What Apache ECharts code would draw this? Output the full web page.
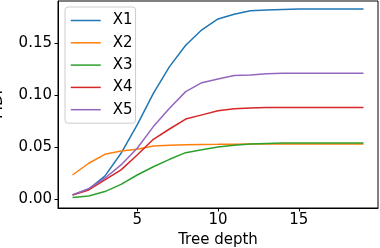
<!DOCTYPE html>
<html><head><meta charset="utf-8">
<script src="https://cdn.jsdelivr.net/npm/echarts@6/dist/echarts.min.js"></script>
<style>html,body{margin:0;padding:0;background:#fff}#c{width:380px;height:248px}</style>
</head><body><div id="c"></div>
<script>
const depths = [1,2,3,4,5,6,7,8,9,10,11,12,13,14,15,16,17,18,19];
const X1 = [0.0039,0.0096,0.022,0.044,0.0713,0.1018,0.1275,0.148,0.163,0.1734,0.178,0.1814,0.182,0.1825,0.183,0.183,0.183,0.183,0.183];
const X2 = [0.0231,0.0344,0.043,0.0462,0.0479,0.051,0.0517,0.0523,0.0525,0.0526,0.0528,0.0529,0.0529,0.0529,0.0529,0.0529,0.0529,0.0529,0.0529];
const X3 = [0.0013,0.0029,0.0071,0.0141,0.0231,0.031,0.0382,0.0446,0.0475,0.050,0.0517,0.053,0.0535,0.0538,0.0539,0.0539,0.0539,0.0539,0.0539];
const X4 = [0.0039,0.0087,0.0183,0.028,0.0424,0.0575,0.0674,0.077,0.081,0.085,0.087,0.0877,0.088,0.088,0.088,0.088,0.088,0.088,0.088];
const X5 = [0.0039,0.0099,0.020,0.0328,0.0488,0.0697,0.0874,0.1034,0.112,0.1156,0.119,0.1195,0.1206,0.121,0.121,0.121,0.121,0.121,0.121];
const names = ['X1','X2','X3','X4','X5'];
const seriesData = [X1,X2,X3,X4,X5];
const colors = ['#1f77b4','#ff7f0e','#2ca02c','#d62728','#9467bd'];
const xTicks = [5,10,15];
const yTicks = [0,0.05,0.10,0.15];
const font = 'DejaVu Sans';

const chart = echarts.init(document.getElementById('c'), null, {renderer:'canvas'});
chart.setOption({
  animation:false,
  color: colors,
  textStyle:{fontFamily:font},
  grid:{left:58,right:2,top:1,bottom:40,containLabel:false,outerBoundsMode:'none',show:true,borderColor:'#000',borderWidth:1,backgroundColor:'transparent'},
  legend:{
    orient:'vertical', left:65, top:7,
    padding:[6,3,6,5], itemGap:7.3, itemWidth:30, itemHeight:14,
    backgroundColor:'rgba(255,255,255,0.8)', borderColor:'#cccccc', borderWidth:1, borderRadius:3,
    itemStyle:{opacity:0},
    lineStyle:{width:1.5},
    textStyle:{fontFamily:font,fontSize:15,color:'#000',padding:[0,0,0,7]},
    data:names
  },
  xAxis:{
    type:'value', min:0.1, max:19.9,
    name:'Tree depth', nameLocation:'middle', nameGap:24,
    nameTextStyle:{fontFamily:font,fontSize:15,color:'#000'},
    axisLine:{show:true,onZero:false,lineStyle:{color:'#000',width:1}},
    axisTick:{show:true,length:3.5,lineStyle:{color:'#000'},customValues:xTicks},
    axisLabel:{fontFamily:font,fontSize:15,color:'#000',margin:5,customValues:xTicks},
    splitLine:{show:false}
  },
  yAxis:{
    type:'value', min:-0.0087, max:0.1907,
    name:'MDI', nameLocation:'middle', nameGap:52,
    nameTextStyle:{fontFamily:font,fontSize:15,color:'#000'},
    axisLine:{show:true,onZero:false,lineStyle:{color:'#000',width:1}},
    axisTick:{show:true,length:3.5,lineStyle:{color:'#000'},customValues:yTicks},
    axisLabel:{fontFamily:font,fontSize:15,color:'#000',margin:6,customValues:yTicks,formatter:v=>v.toFixed(2)},
    splitLine:{show:false}
  },
  series: names.map((n,i)=>({
    name:n, type:'line', symbol:'none', showSymbol:false,
    lineStyle:{width:1.5,color:colors[i]}, itemStyle:{color:colors[i]},
    data: depths.map((d,j)=>[d, seriesData[i][j]])
  }))
});
</script></body></html>
